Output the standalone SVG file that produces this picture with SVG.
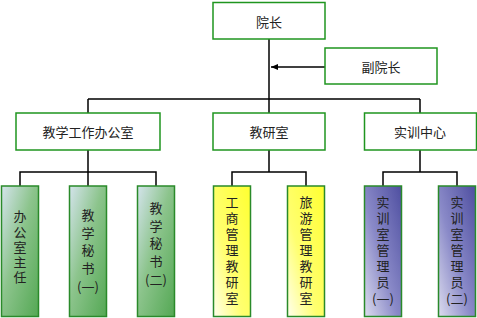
<svg xmlns="http://www.w3.org/2000/svg" width="477" height="318" viewBox="0 0 477 318">
<style>
.top{fill:#ffffff;stroke:#1f951f;stroke-width:1.5}
.kid{stroke:#2a8a2a;stroke-width:1.5}
.ln{fill:none;stroke:#000;stroke-width:1.5}
text{font-family:"Noto Sans CJK SC","Liberation Sans",sans-serif;font-size:13px;fill:#222;text-anchor:middle;dominant-baseline:central}
text.v{writing-mode:vertical-rl;text-anchor:start;dominant-baseline:central}
.s1{letter-spacing:2.2px}
.s2{letter-spacing:4.6px}
.s3{letter-spacing:3.1px}
</style>
<defs>
<linearGradient id="gG" x1="0" y1="0" x2="1" y2="1">
<stop offset="0" stop-color="#d4e4ec"/><stop offset="0.45" stop-color="#8cc48c"/><stop offset="1" stop-color="#54a854"/>
</linearGradient>
<linearGradient id="gY" x1="1" y1="0" x2="0" y2="1">
<stop offset="0" stop-color="#ffff30"/><stop offset="0.6" stop-color="#ffff70"/><stop offset="1" stop-color="#ffffee"/>
</linearGradient>
<linearGradient id="gP" x1="1" y1="0" x2="0" y2="1">
<stop offset="0" stop-color="#4e4ea0"/><stop offset="0.55" stop-color="#8a8ac8"/><stop offset="1" stop-color="#dcdcee"/>
</linearGradient>
<marker id="ah" viewBox="0 0 10 10" refX="10" refY="5" markerWidth="7" markerHeight="6" markerUnits="userSpaceOnUse" orient="auto" preserveAspectRatio="none">
<path d="M0,0 L10,5 L0,10 Z" fill="#000"/>
</marker>
</defs>
<g id="connectors">
<path class="ln" d="M269,39 V113"/>
<path class="ln" d="M88,99 H420 M88,99 V113 M420,99 V113"/>
<path class="ln" d="M325,67 H271" marker-end="url(#ah)"/>
<path class="ln" d="M88,150 V186 M20,186 V172 H156 V186"/>
<path class="ln" d="M269,150 V172 M232,186 V172 H306 V186"/>
<path class="ln" d="M420,150 V172 M383,186 V172 H457 V186"/>
</g>
<g id="yuanzhang"><rect class="top" x="213" y="2.5" width="112" height="36.5"/><text x="269" y="21">院长</text></g>
<g id="fuyuanzhang"><rect class="top" x="325" y="48" width="112" height="36"/><text x="381" y="66">副院长</text></g>
<g id="jiaoxue"><rect class="top" x="16" y="113" width="144" height="37"/><text x="88" y="131.5">教学工作办公室</text></g>
<g id="jiaoyanshi"><rect class="top" x="213" y="113" width="112" height="37"/><text x="269" y="131.5">教研室</text></g>
<g id="shixun"><rect class="top" x="364.5" y="113" width="112" height="37"/><text x="420" y="131.5">实训中心</text></g>
<g id="bangongshi"><rect class="kid" fill="url(#gG)" x="1.5" y="186" width="37" height="130.5"/>
<text class="v s1" x="20" y="210">办公室主任</text></g>
<g id="mishu1"><rect class="kid" fill="url(#gG)" x="69.5" y="186" width="37" height="130.5"/>
<text class="v s2" x="88" y="208.5">教学秘书</text><text x="88" y="286">(一)</text></g>
<g id="mishu2"><rect class="kid" fill="url(#gG)" x="137.5" y="186" width="37" height="130.5"/>
<text class="v s2" x="156" y="201.8">教学秘书</text><text x="156" y="279.3">(二)</text></g>
<g id="gongshang"><rect class="kid" fill="url(#gY)" x="213.5" y="186" width="37" height="130.5"/>
<text class="v s3" x="232" y="195.2">工商管理教研室</text></g>
<g id="lvyou"><rect class="kid" fill="url(#gY)" x="287.5" y="186" width="37" height="130.5"/>
<text class="v s3" x="306" y="195.2">旅游管理教研室</text></g>
<g id="shixunyuan1"><rect class="kid" fill="url(#gP)" x="364.5" y="186" width="37" height="130.5"/>
<text class="v s3" x="383" y="195.2">实训室管理员</text><text x="383" y="298.6">(一)</text></g>
<g id="shixunyuan2"><rect class="kid" fill="url(#gP)" x="438.5" y="186" width="37" height="130.5"/>
<text class="v s3" x="457" y="195.2">实训室管理员</text><text x="457" y="298.6">(二)</text></g>
</svg>
